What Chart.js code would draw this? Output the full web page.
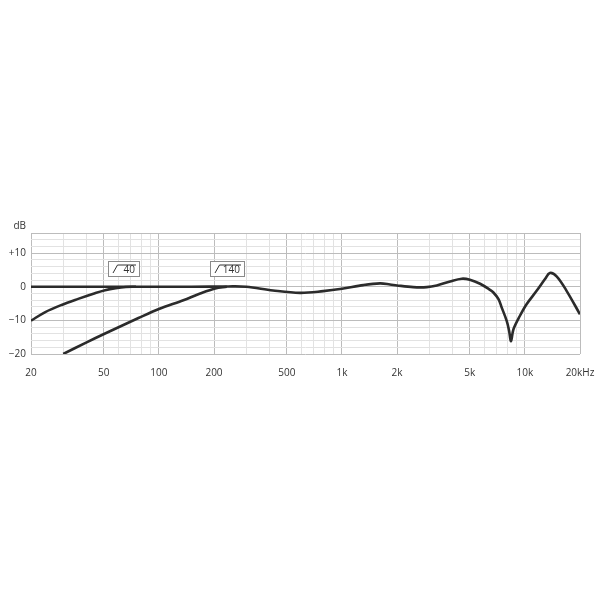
<!DOCTYPE html>
<html><head><meta charset="utf-8">
<script src="https://cdn.jsdelivr.net/npm/chart.js@4"></script>
<style>html,body{margin:0;padding:0;background:#fff}#wrap{width:600px;height:600px}</style>
</head><body><div id="wrap"><canvas id="c"></canvas></div>
<script>
// ---- data ----
const xTickValues = [20,30,40,50,60,70,80,90,100,200,300,400,500,600,700,800,900,1000,2000,3000,4000,5000,6000,7000,8000,9000,10000,20000];
const xTickLabels = {20:'20',50:'50',100:'100',200:'200',500:'500',1000:'1k',2000:'2k',5000:'5k',10000:'10k',20000:'20kHz'};
const xMajor = [20,50,100,200,500,1000,2000,5000,10000,20000];
const yTickValues = [-20,-18,-16,-14,-12,-10,-8,-6,-4,-2,0,2,4,6,8,10,12,14,16];
const yTickLabels = {'-20':'\u221220','-10':'\u221210','0':'0','10':'+10'};
const yMajor = [-20,-10,0,10,16];

const responseFreq = [20,150,240,300,420,590,790,1000,1310,1615,1830,2000,2455,2905,3300,3900,4520,5000,5690,6440,6725,7160,7470,7960,8190,8400,8650,9380,10210,11590,12880,13680,14900,16890,20000];
const responseDb   = [0,0,0.1,0,-1.1,-1.8,-1.3,-0.6,0.5,1.0,0.7,0.4,-0.1,-0.1,0.4,1.6,2.4,2.1,0.9,-0.9,-1.7,-3.6,-6.2,-10.2,-13.0,-16.2,-12.7,-8.7,-5.2,-1.2,2.3,4.1,3.1,-1.2,-8.2];

const cut40Freq = [20,23.8,29.4,36.2,44.7,50.8,58,66,75];
const cut40Db   = [-10.1,-7.6,-5.4,-3.6,-1.9,-1.0,-0.4,-0.05,0];

const cut140Freq = [30,40,50.8,77.3,100,136,168,203,235];
const cut140Db   = [-20,-16.6,-13.9,-9.3,-6.6,-4.0,-2.0,-0.5,0];

const filterLabels = ['40','140'];
const filterBoxFreq = [[53,78],[189,290]];
const filterBoxDb = [7.55,3.2];

// ---- build ----
const pts = (xs, ys) => xs.map((x,i)=>({x, y: ys[i]}));
const lineStyle = {borderColor:'#2b2b2b', borderWidth:2.6, pointRadius:0, fill:false, tension:0.35};

const extras = {
  id:'extras',
  afterDatasetsDraw(chart){
    const {ctx, chartArea, scales:{x,y}} = chart;
    ctx.save();
    ctx.fillStyle = '#333';
    ctx.font = '10px "Open Sans"';
    ctx.textAlign = 'right';
    ctx.textBaseline = 'middle';
    ctx.fillText('dB', chartArea.left - 5, chartArea.top - 7);
    filterLabels.forEach((lab,i)=>{
      const l = Math.round(x.getPixelForValue(filterBoxFreq[i][0]));
      const r = Math.round(x.getPixelForValue(filterBoxFreq[i][1]));
      const t = Math.round(y.getPixelForValue(filterBoxDb[0]));
      const b = Math.round(y.getPixelForValue(filterBoxDb[1]));
      ctx.fillStyle = '#fff';
      ctx.fillRect(l, t, r-l, b-t);
      ctx.strokeStyle = '#8a8a8a';
      ctx.lineWidth = 1;
      ctx.strokeRect(l+0.5, t+0.5, r-l, b-t);
      ctx.font = '10px "Open Sans"';
      const tw = ctx.measureText(lab).width;
      const tr = r - 4;
      const tl = tr - tw;
      const sx = l + 5;
      ctx.strokeStyle = '#333';
      ctx.lineWidth = 1;
      ctx.beginPath();
      ctx.moveTo(sx, b - 3);
      ctx.lineTo(sx + 4.5, t + 4);
      ctx.lineTo(tr + 1, t + 4);
      ctx.stroke();
      ctx.fillStyle = '#333';
      ctx.textAlign = 'left';
      ctx.textBaseline = 'middle';
      ctx.fillText(lab, tl, (t+b)/2 + 1.5);
    });
    ctx.restore();
  }
};

new Chart(document.getElementById('c'), {
  type:'line',
  data:{datasets:[
    Object.assign({data: pts(responseFreq, responseDb)}, lineStyle),
    Object.assign({data: pts(cut40Freq, cut40Db)}, lineStyle),
    Object.assign({data: pts(cut140Freq, cut140Db)}, lineStyle)
  ]},
  options:{
    responsive:true, maintainAspectRatio:false, animation:false,
    layout:{padding:{top:233,left:0,right:20,bottom:216}},
    plugins:{legend:{display:false}, tooltip:{enabled:false}},
    scales:{
      x:{type:'logarithmic', min:20, max:20000,
        afterBuildTicks: s => { s.ticks = xTickValues.map(v=>({value:v})); },
        afterFit: s => { s.height = 30; s.paddingLeft = 0; s.paddingRight = 0; },
        grid:{drawTicks:false, lineWidth:1,
          color: c => xMajor.includes(c.tick && c.tick.value) ? '#bcbcbc' : '#e2e2e2'},
        border:{display:false},
        ticks:{autoSkip:false, maxRotation:0, padding:13, color:'#333', font:{family:'"Open Sans"', size:10},
          callback: v => xTickLabels[v] || ''}
      },
      y:{type:'linear', min:-20, max:16,
        afterBuildTicks: s => { s.ticks = yTickValues.map(v=>({value:v})); },
        afterFit: s => { s.width = 31; s.paddingTop = 0; s.paddingBottom = 0; },
        grid:{drawTicks:false, lineWidth:1,
          color: c => yMajor.includes(c.tick && c.tick.value) ? '#bcbcbc' : '#e2e2e2'},
        border:{display:false},
        ticks:{autoSkip:false, padding:5, color:'#333', font:{family:'"Open Sans"', size:10},
          callback: v => yTickLabels[String(v)] || ''}
      }
    }
  },
  plugins:[extras]
});
</script></body></html>
